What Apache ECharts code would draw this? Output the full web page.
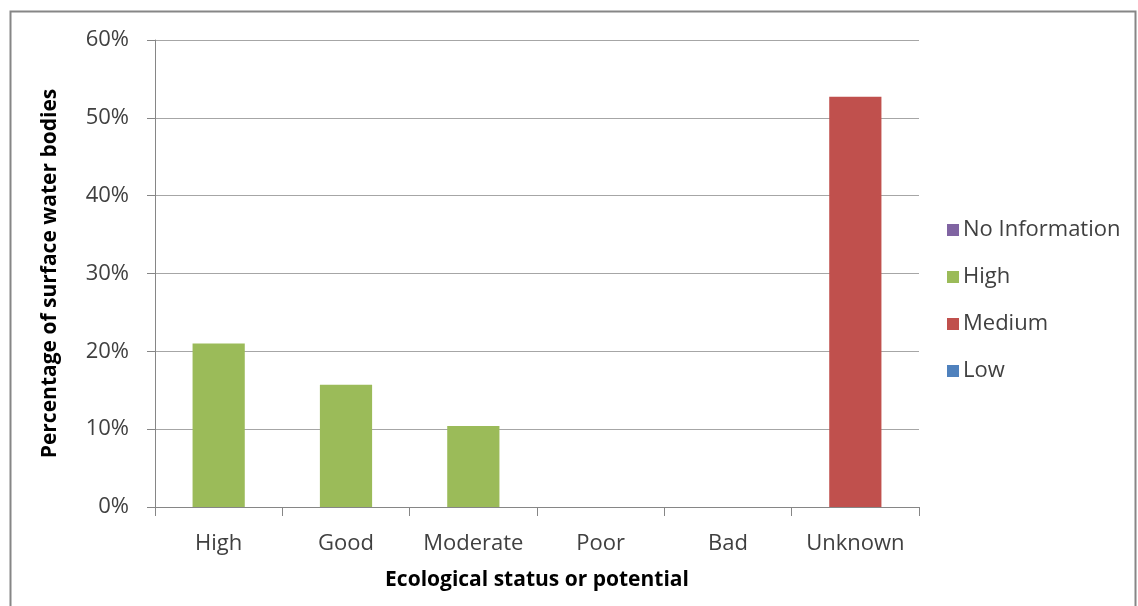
<!DOCTYPE html>
<html>
<head>
<meta charset="utf-8">
<script src="https://cdn.jsdelivr.net/npm/echarts@6/dist/echarts.min.js"></script>
<style>
  html, body { margin: 0; padding: 0; background: #fff; }
  #chart { width: 1138px; height: 606px; }
</style>
</head>
<body>
<div id="chart"></div>
<script>
// Ecological status categories along the x axis
const categories = ['High', 'Good', 'Moderate', 'Poor', 'Bad', 'Unknown'];

// Percentage of surface water bodies, by confidence level
const noInformation = [0, 0, 0, 0, 0, 0];
const highConfidence = [21.0, 15.7, 10.4, 0, 0, 0];
const mediumConfidence = [0, 0, 0, 0, 0, 52.7];
const lowConfidence = [0, 0, 0, 0, 0, 0];

// Value axis ticks
const yTicks = [0, 10, 20, 30, 40, 50, 60];

const FONT = '"Open Sans", Lato, sans-serif';
const TEXT = '#404040';

const chart = echarts.init(document.getElementById('chart'), null, { renderer: 'canvas' });

function barSeries(name, data, color) {
  return {
    name: name,
    type: 'bar',
    stack: 'total',
    data: data,
    barWidth: '41%',
    itemStyle: { color: color, borderWidth: 0 },
    emphasis: { disabled: true }
  };
}

chart.setOption({
  animation: false,
  backgroundColor: '#fff',
  graphic: [{
    type: 'rect',
    shape: { x: 10.5, y: 11.5, width: 1125, height: 620 },
    style: { fill: 'none', stroke: '#868686', lineWidth: 2 },
    silent: true
  }],
  grid: { left: 155, right: 219, top: 40, bottom: 99 },
  legend: {
    data: ['No Information', 'High', 'Medium', 'Low'],
    orient: 'vertical',
    left: 942,
    top: 210,
    itemWidth: 12,
    itemHeight: 12,
    itemGap: 17,
    icon: 'rect',
    textStyle: { fontFamily: FONT, fontSize: 22, color: TEXT, lineHeight: 30, padding: [0, 0, 0, -1] }
  },
  xAxis: {
    type: 'category',
    data: categories,
    name: 'Ecological status or potential',
    nameLocation: 'middle',
    nameGap: 63,
    nameTextStyle: { fontFamily: FONT, fontSize: 21, fontWeight: 'bold', color: '#000' },
    axisLine: { lineStyle: { color: '#868686', width: 1 } },
    axisTick: { show: true, interval: 0, length: 9, lineStyle: { color: '#868686' } },
    axisLabel: { interval: 0, hideOverlap: false, fontFamily: FONT, fontSize: 22, color: TEXT, margin: 26 }
  },
  yAxis: {
    type: 'value',
    min: yTicks[0],
    max: yTicks[yTicks.length - 1],
    interval: yTicks[1] - yTicks[0],
    name: 'Percentage of surface water bodies',
    nameLocation: 'middle',
    nameGap: 94,
    nameTextStyle: { fontFamily: FONT, fontSize: 21, fontWeight: 'bold', color: '#000' },
    axisLine: { show: true, lineStyle: { color: '#868686', width: 1 } },
    axisTick: { show: true, length: 8, lineStyle: { color: '#868686' } },
    axisLabel: { fontFamily: FONT, fontSize: 22, color: TEXT, margin: 26, formatter: '{value}%' },
    splitLine: { show: true, lineStyle: { color: '#A6A6A6', width: 1 } }
  },
  series: [
    barSeries('Low', lowConfidence, '#4F81BD'),
    barSeries('Medium', mediumConfidence, '#C0504D'),
    barSeries('High', highConfidence, '#9BBB59'),
    barSeries('No Information', noInformation, '#8064A2')
  ]
});
</script>
</body>
</html>
